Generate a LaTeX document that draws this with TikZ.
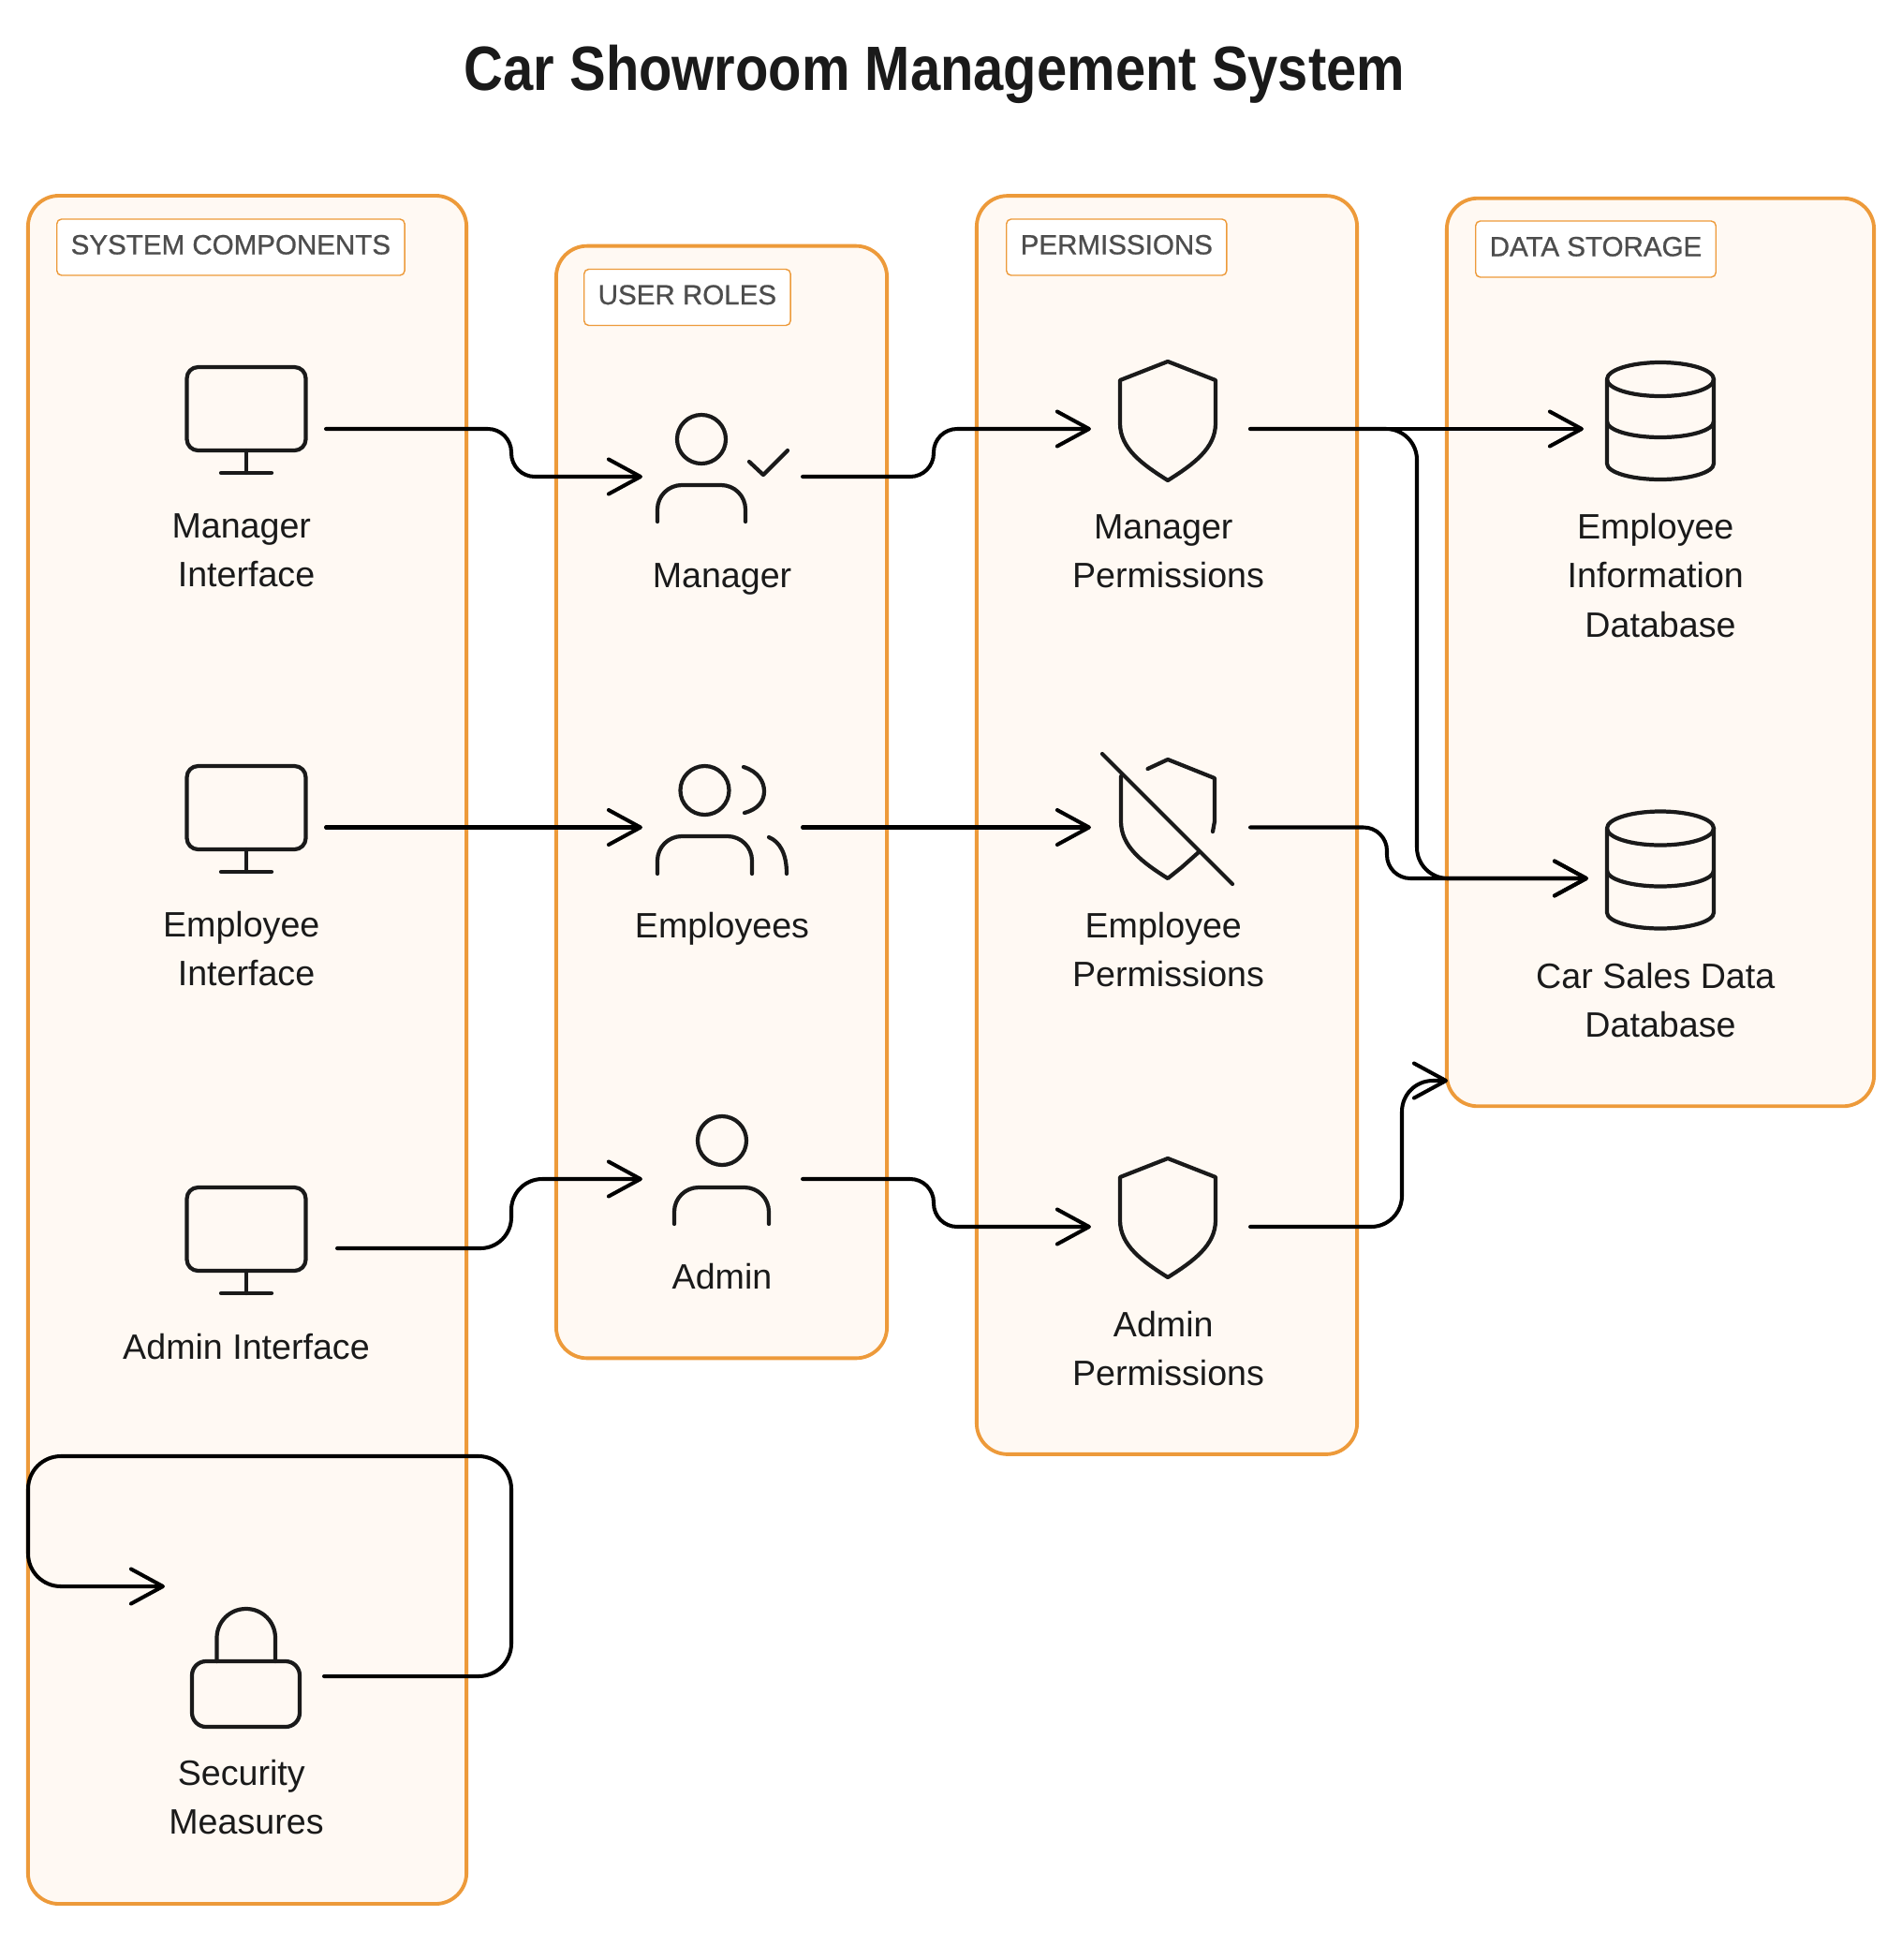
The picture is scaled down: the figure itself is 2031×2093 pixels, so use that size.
\documentclass[tikz,border=0pt]{standalone}
\usepackage{fontspec}
\setmainfont{Liberation Sans}
\newfontfamily\tagfont[FakeBold=0.8]{Liberation Sans}
\newfontfamily\titlefont[FakeStretch=0.867]{Liberation Sans}
\usetikzlibrary{arrows.meta}

\definecolor{groupline}{HTML}{ED9A3A}
\definecolor{groupfill}{HTML}{FFF9F3}
\definecolor{ink}{HTML}{1A1A1A}
\definecolor{tagtext}{HTML}{4D4D4D}

\newcommand{\tsp}{\kern0.278em}

\tikzset{
  groupbox/.style={draw=groupline,fill=groupfill,line width=1.1pt,rounded corners=0.33cm,inner sep=0,outer sep=0},
  tagbox/.style={draw=groupline,fill=white,line width=0.4pt,rounded corners=0.05cm,anchor=west,
    minimum height=0.6cm,inner xsep=0.15cm,inner ysep=0,text height=0.21cm,text depth=0.06cm,
    font=\tagfont\fontsize{8.4}{10}\selectfont,text=tagtext},
  lbl/.style={align=center,inner sep=0,text=ink,font=\fontsize{10.7}{14.8}\selectfont},
  iconbox/.style={inner sep=0,outer sep=0,minimum height=1pt},
  icon/.style={draw=ink,line width=1.2pt,line cap=round,line join=round},
  flow/.style={draw=black,line width=1.15pt,line cap=round,rounded corners=0.25cm,
    -{Straight Barb[length=0.34cm,width=0.37cm,round]}},
  wideflow/.style={flow,rounded corners=0.33cm},
}

\newcommand{\drawmonitor}[2]{
  \begin{scope}[shift={(#1,#2)}]
    \draw[icon,rounded corners=0.12cm] (-63.5,0) rectangle (63.5,89);
    \draw[icon] (0,89) -- (0,113) (-27,113) -- (27,113);
  \end{scope}
}
\newcommand{\drawshield}[2]{
  \begin{scope}[shift={(#1,#2)}]
    \draw[icon] (0,0) -- (51,20) -- (51,66) .. controls (51,93) and (27,110) .. (0,127)
      .. controls (-27,110) and (-51,93) .. (-51,66) -- (-51,20) -- cycle;
  \end{scope}
}
\newcommand{\drawdb}[2]{
  \begin{scope}[shift={(#1,#2)}]
    \draw[icon] (0,18) ellipse [x radius=57,y radius=18];
    \draw[icon] (-57,18) -- (-57,108) arc[start angle=180,end angle=0,x radius=57,y radius=17] -- (57,18);
    \draw[icon] (-57,63) arc[start angle=180,end angle=0,x radius=57,y radius=17];
  \end{scope}
}

\begin{document}
\begin{tikzpicture}[x=0.01cm,y=-0.01cm]
\useasboundingbox (0,0) rectangle (2031,2093);

\node[anchor=base,inner sep=0,text=ink,font=\titlefont\bfseries\fontsize{19}{23}\selectfont] (title) at (998,96) {Car Showroom Management System};

% groups
\node[groupbox,minimum width=4.68cm,minimum height=18.23cm] (syscomp) at (264,1121) {};
\node[groupbox,minimum width=3.53cm,minimum height=11.87cm] (roles) at (770.5,856.5) {};
\node[groupbox,minimum width=4.06cm,minimum height=13.43cm] (perms) at (1246,881) {};
\node[groupbox,minimum width=4.56cm,minimum height=9.69cm] (storage) at (1773,696.5) {};

\node[tagbox] (syscomptag) at (60,264) {SYSTEM COMPONENTS};
\node[tagbox] (rolestag) at (623,317.5) {USER ROLES};
\node[tagbox] (permstag) at (1074,264) {PERMISSIONS};
\node[tagbox] (storagetag) at (1575,266) {DATA STORAGE};

% system components
\drawmonitor{263}{392}
\drawmonitor{263}{818}
\drawmonitor{263}{1268}
\node[iconbox,minimum width=1.7cm] (mgrifbox) at (263,458) {};
\node[iconbox,minimum width=1.7cm] (empifbox) at (263,883.5) {};
\node[iconbox,minimum width=1.94cm] (admifbox) at (263,1333) {};
\node[lbl] (mgrif) at (263,588) {Manager\tsp\\Interface};
\node[lbl] (empif) at (263,1013.5) {Employee\tsp\\Interface};
\node[lbl] (admif) at (263,1438.5) {Admin Interface};

\draw[icon,rounded corners=0.31cm] (231.5,1774) -- (231.5,1718) -- (294,1718) -- (294,1774);
\draw[icon,rounded corners=0.15cm] (205,1774) rectangle (320,1844);
\node[iconbox,minimum width=1.66cm] (secbox) at (263,1790) {};
\node[lbl] (sec) at (263,1919.5) {Security\tsp\\Measures};

% user roles
\draw[icon] (749,469) circle (0.26cm);
\draw[icon,rounded corners=0.26cm] (702,557) -- (702,518) -- (796,518) -- (796,557);
\draw[icon] (800,493) -- (815,507) -- (841,481);
\node[iconbox,minimum width=1.71cm] (mgrbox) at (771.5,509) {};
\node[lbl] (mgr) at (771,618) {Manager};

\draw[icon] (752.5,844) circle (0.26cm);
\draw[icon] (794,819) .. controls (810,824) and (816,835) .. (816,845) .. controls (816,855) and (810,864) .. (795,868);
\draw[icon,rounded corners=0.26cm] (702,933) -- (702,893) -- (803,893) -- (803,933);
\draw[icon] (821,894) .. controls (833,899) and (840,912) .. (840,933);
\node[iconbox,minimum width=1.71cm] (empbox) at (771.5,883.5) {};
\node[lbl] (emp) at (771,991.5) {Employees};

\draw[icon] (771,1218) circle (0.26cm);
\draw[icon,rounded corners=0.26cm] (720,1307) -- (720,1268) -- (821,1268) -- (821,1307);
\node[iconbox,minimum width=1.71cm] (admbox) at (771.5,1259) {};
\node[lbl] (adm) at (771,1363.5) {Admin};

% permissions
\drawshield{1247}{386}
\draw[icon] (1225.5,821) -- (1247,811) -- (1297,831) -- (1297,877) -- (1295,888);
\draw[icon] (1197,829) -- (1197,877) .. controls (1197,904) and (1220,921) .. (1247,938) -- (1262,926) -- (1280,910);
\draw[icon] (1177,805) -- (1316,944);
\drawshield{1247}{1237}
\node[iconbox,minimum width=1.70cm] (mgrpbox) at (1250,458) {};
\node[iconbox,minimum width=1.70cm] (emppbox) at (1250,883.5) {};
\node[iconbox,minimum width=1.70cm] (admpbox) at (1250,1310) {};
\node[lbl] (mgrp) at (1247.5,589) {Manager\tsp\\Permissions};
\node[lbl] (empp) at (1247.5,1014) {Employee\tsp\\Permissions};
\node[lbl] (admp) at (1247.5,1440) {Admin\tsp\\Permissions};

% data storage
\drawdb{1773}{387}
\drawdb{1773}{866.5}
\node[iconbox,minimum width=1.64cm] (empdbbox) at (1773,458) {};
\node[iconbox,minimum width=1.54cm] (cardbbox) at (1773,938) {};
\node[lbl] (empdb) at (1773,614.5) {Employee\tsp\\Information\tsp\\Database};
\node[lbl] (cardb) at (1773,1068) {Car Sales Data\tsp\\Database};

% connectors
\coordinate (bendA) at (546,0);
\coordinate (bendB) at (997,0);
\coordinate (bendC) at (1481,0);
\coordinate (bendD) at (1497,0);
\coordinate (bendE) at (1513,0);
\coordinate (storagein) at (1546,1154);
\coordinate (secin) at (176,1694);
\coordinate (looptop) at (546,1555);
\coordinate (loopleft) at (30,1555);

\draw[flow] (mgrifbox.east) -- (mgrifbox.east -| bendA) -- (mgrbox.west -| bendA) -- (mgrbox.west);
\draw[flow] (empifbox.east) -- (empbox.west);
\draw[wideflow] (admifbox.east) -- (admifbox.east -| bendA) -- (admbox.west -| bendA) -- (admbox.west);

\draw[flow] (mgrbox.east) -- (mgrbox.east -| bendB) -- (mgrpbox.west -| bendB) -- (mgrpbox.west);
\draw[flow] (empbox.east) -- (emppbox.west);
\draw[flow] (admbox.east) -- (admbox.east -| bendB) -- (admpbox.west -| bendB) -- (admpbox.west);

\draw[flow] (mgrpbox.east) -- (empdbbox.west);
\draw[wideflow] (mgrpbox.east) -- (mgrpbox.east -| bendE) -- (cardbbox.west -| bendE) -- (cardbbox.west);
\draw[flow] (emppbox.east) -- (emppbox.east -| bendC) -- (cardbbox.west -| bendC) -- (cardbbox.west);
\draw[wideflow] (admpbox.east) -- (admpbox.east -| bendD) -- (storagein -| bendD) -- (storagein);

\draw[flow,rounded corners=0.35cm] (secbox.east) -| (looptop) -- (loopleft) |- (secin);
\end{tikzpicture}
\end{document}
